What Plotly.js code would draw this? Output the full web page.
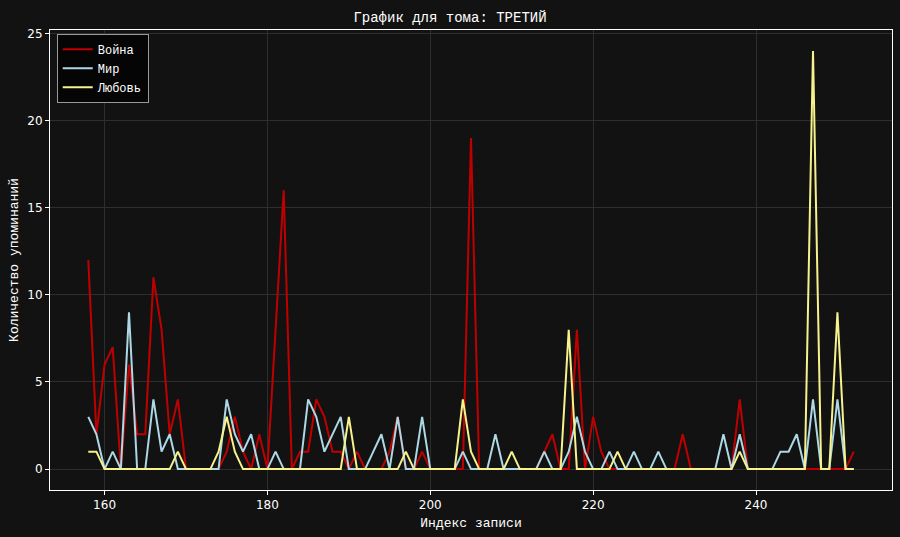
<!DOCTYPE html>
<html>
<head>
<meta charset="utf-8">
<script src="https://cdn.plot.ly/plotly-3.0.1.min.js"></script>
<style>html,body{margin:0;padding:0;background:#121212;}</style>
</head>
<body>
<div id="chart" style="width:900px;height:537px;"></div>
<script>
const xStart = 158;
const war = [12,2,6,7,0,6,2,2,11,8,2,4,0,0,0,0,0,1,3,1,0,2,0,8,16,0,1,1,4,3,1,1,0,1,0,0,0,1,3,0,0,1,0,0,0,0,0,19,0,0,0,0,0,0,0,0,1,2,0,0,8,0,3,1,0,0,0,0,0,0,0,0,0,2,0,0,0,0,0,0,4,0,0,0,0,0,0,0,0,0,0,0,0,0,1];
const peace = [3,2,0,1,0,9,0,0,4,1,2,0,0,0,0,0,0,4,2,1,2,0,0,1,0,0,0,4,3,1,2,3,0,0,0,1,2,0,3,0,0,3,0,0,0,0,1,0,0,0,2,0,0,0,0,0,1,0,0,1,3,1,0,0,1,0,0,1,0,0,1,0,0,0,0,0,0,0,2,0,2,0,0,0,0,1,1,2,0,4,0,0,4,0,0];
const love = [1,1,0,0,0,0,0,0,0,0,0,1,0,0,0,0,1,3,1,0,0,0,0,0,0,0,0,0,0,0,0,0,3,0,0,0,0,0,0,1,0,0,0,0,0,0,4,1,0,0,0,0,1,0,0,0,0,0,0,8,0,0,0,0,0,1,0,0,0,0,0,0,0,0,0,0,0,0,0,0,1,0,0,0,0,0,0,0,0,24,0,0,9,0,0];
const seriesNames = ['Война','Мир','Любовь'];
const seriesColors = ['#c00000','#add8e6','#f7f28c'];
const xs = war.map((_, i) => xStart + i);
const data = [war, peace, love].map((ys, k) => ({
  x: xs, y: ys, type: 'scatter', mode: 'lines', name: seriesNames[k],
  line: {color: seriesColors[k], width: 2}
}));
const mono = 'Courier New, Courier, Nimbus Mono PS, FreeMono, Liberation Mono, monospace';
const sans = 'DejaVu Sans, sans-serif';
const layout = {
  width: 900, height: 537,
  paper_bgcolor: '#121212', plot_bgcolor: '#121212',
  margin: {l: 50, r: 8, t: 30, b: 47},
  title: {text: 'График для тома: ТРЕТИЙ', font: {family: mono, size: 14, color: '#ffffff'}, x: 0.5, xanchor: 'center', y: 0.968, yanchor: 'middle'},
  showlegend: true,
  legend: {x: 0.008, y: 0.992, xanchor: 'left', yanchor: 'top', bgcolor: '#050505', bordercolor: '#999999', borderwidth: 1, font: {family: mono, size: 12, color: '#ffffff'}, tracegroupgap: 0},
  xaxis: {
    range: [153.3, 256.7], tickmode: 'linear', tick0: 160, dtick: 20,
    showgrid: true, gridcolor: '#2e2e2e', gridwidth: 1, zeroline: false,
    showline: true, linecolor: '#ffffff', linewidth: 1, mirror: true,
    ticks: 'outside', ticklen: 4, tickcolor: '#ffffff',
    tickfont: {family: sans, size: 12, color: '#ffffff'},
    title: {text: 'Индекс записи', font: {family: mono, size: 13, color: '#ffffff'}, standoff: 6}
  },
  yaxis: {
    range: [-1.2, 25.2], tickmode: 'linear', tick0: 0, dtick: 5,
    showgrid: true, gridcolor: '#2e2e2e', gridwidth: 1, zeroline: false,
    showline: true, linecolor: '#ffffff', linewidth: 1, mirror: true,
    ticks: 'outside', ticklen: 4, tickcolor: '#ffffff',
    tickfont: {family: sans, size: 12, color: '#ffffff'},
    title: {text: 'Количество упоминаний', font: {family: mono, size: 13, color: '#ffffff'}, standoff: 5}
  }
};
Plotly.newPlot('chart', data, layout, {displayModeBar: false, staticPlot: true});
</script>
</body>
</html>
